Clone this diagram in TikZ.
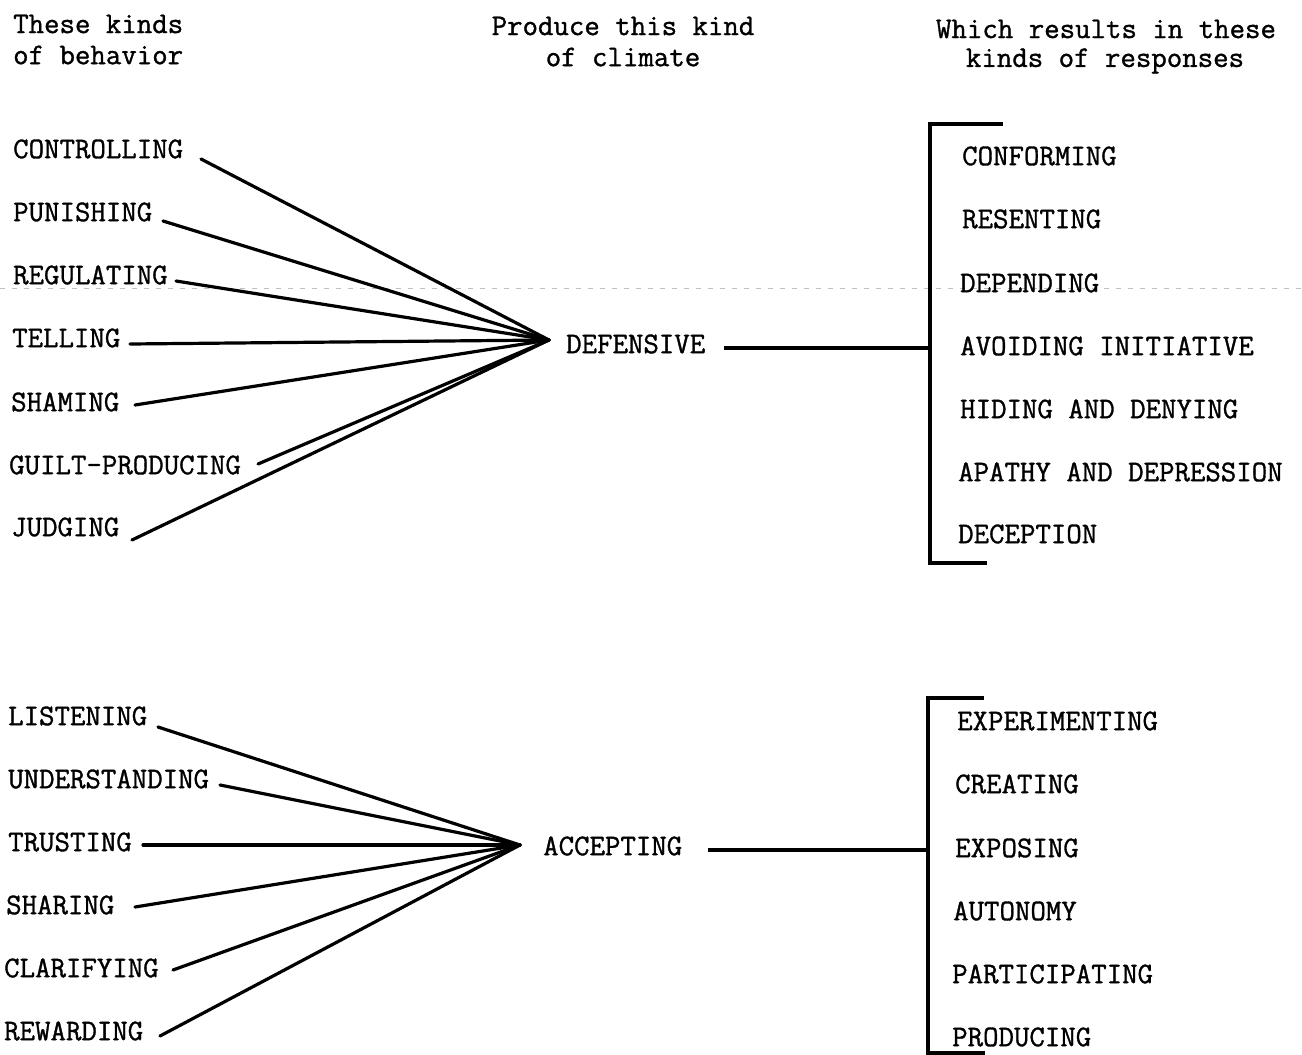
\documentclass[tikz,border=0pt]{standalone}
\usepackage{fontspec}
\newfontfamily\tw[FakeBold=1.1]{Latin Modern Mono}
\begin{document}
\begin{tikzpicture}[x=1pt,y=-1pt,
  lbl/.style={inner sep=0pt, anchor=west, font=\tw\fontsize{30}{33}\selectfont},
  hdr/.style={inner sep=0pt, align=center, font=\tw\fontsize{30}{32}\selectfont},
  conn/.style={line width=3.2pt, line cap=round},
  brk/.style={line width=3.2pt}]
\useasboundingbox (0,0) rectangle (1302,1055);
\fill[white] (0,0) rectangle (1302,1055);
% faint scan line
\draw[gray!50, line width=0.8pt, dash pattern=on 5pt off 7pt] (0,288) -- (1302,288);
% headers
\node[hdr, anchor=west] (h1a) at (13,24) {These kinds};
\node[hdr, anchor=west] (h1b) at (13,55) {of behavior};
\node[hdr] (h2a) at (623,26) {Produce this kind};
\node[hdr] (h2b) at (623,57) {of climate};
\node[hdr] (h3a) at (1106,29) {Which results in these};
\node[hdr] (h3b) at (1105,61) {kinds of responses};
% top group left
\node[lbl] (b1) at (13,149) {CONTROLLING};
\node[lbl] (b2) at (13,212) {PUNISHING};
\node[lbl] (b3) at (13,275) {REGULATING};
\node[lbl] (b4) at (12,338) {TELLING};
\node[lbl] (b5) at (11,402) {SHAMING};
\node[lbl] (b6) at (9,465) {GUILT-PRODUCING};
\node[lbl] (b7) at (11,527) {JUDGING};
\coordinate (s1) at (201,159);
\coordinate (s2) at (163,221);
\coordinate (s3) at (176,281);
\coordinate (s4) at (130,344);
\coordinate (s5) at (135,405);
\coordinate (s6) at (258,464);
\coordinate (s7) at (132,540);
\coordinate (apD) at (549,340);
\foreach \i in {1,...,7} \draw[conn] (s\i) -- (apD);
\node[lbl] (def) at (566,344) {DEFENSIVE};
\coordinate (dL) at (724,348);
\coordinate (dB) at (930,348);
\draw[conn, line cap=butt] (dL) -- (dB);
\coordinate (bt1) at (1003,124);
\coordinate (bb1) at (987,563);
\draw[brk] (bt1) -- (930,124) -- (930,563) -- (bb1);
\node[lbl] (r1) at (962,156) {CONFORMING};
\node[lbl] (r2) at (962,219) {RESENTING};
\node[lbl] (r3) at (960,283) {DEPENDING};
\node[lbl] (r4) at (960,346) {AVOIDING INITIATIVE};
\node[lbl] (r5) at (960,409) {HIDING AND DENYING};
\node[lbl] (r6) at (958,472) {APATHY AND DEPRESSION};
\node[lbl] (r7) at (958,534) {DECEPTION};
% bottom group left
\node[lbl] (a1) at (8,716) {LISTENING};
\node[lbl] (a2) at (8,779) {UNDERSTANDING};
\node[lbl] (a3) at (8,842) {TRUSTING};
\node[lbl] (a4) at (6,905) {SHARING};
\node[lbl] (a5) at (4,968) {CLARIFYING};
\node[lbl] (a6) at (4,1031) {REWARDING};
\coordinate (t1) at (158,727);
\coordinate (t2) at (220,785);
\coordinate (t3) at (143,845);
\coordinate (t4) at (135,907);
\coordinate (t5) at (173,970);
\coordinate (t6) at (160,1036);
\coordinate (apA) at (520,845);
\foreach \i in {1,...,6} \draw[conn] (t\i) -- (apA);
\node[lbl] (acc) at (543,846) {ACCEPTING};
\coordinate (aL) at (708,850);
\coordinate (aB) at (928,850);
\draw[conn, line cap=butt] (aL) -- (aB);
\coordinate (bt2) at (984,698);
\coordinate (bb2) at (985,1053);
\draw[brk] (bt2) -- (928,698) -- (928,1053) -- (bb2);
\node[lbl] (q1) at (957,721) {EXPERIMENTING};
\node[lbl] (q2) at (955,784) {CREATING};
\node[lbl] (q3) at (955,848) {EXPOSING};
\node[lbl] (q4) at (953,911) {AUTONOMY};
\node[lbl] (q5) at (952,974) {PARTICIPATING};
\node[lbl] (q6) at (952,1037) {PRODUCING};
\end{tikzpicture}
\end{document}
